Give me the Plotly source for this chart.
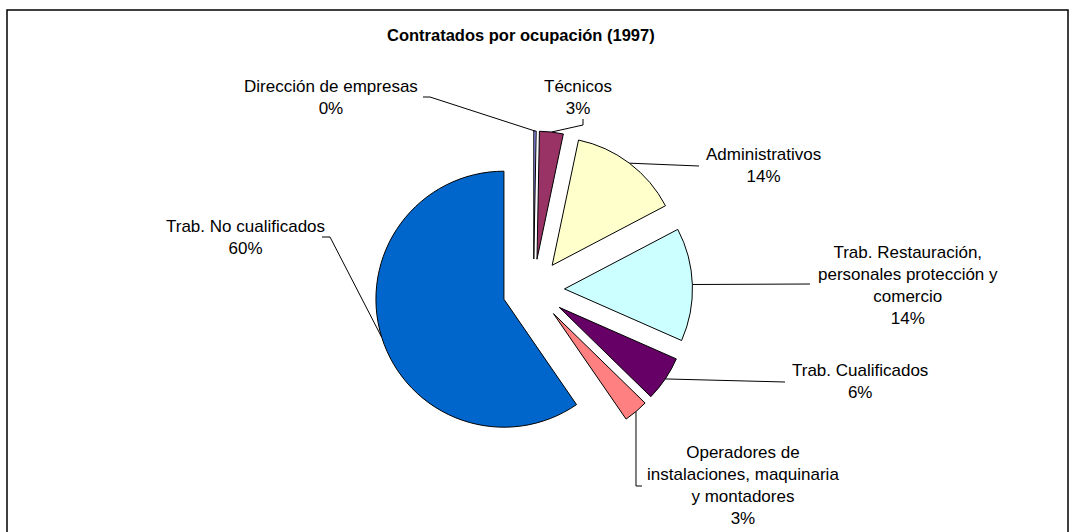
import plotly.graph_objects as go
import math

# ---- data ----
categories = ["Dirección de empresas", "Técnicos", "Administrativos",
              "Trab. Restauración, personales protección y comercio",
              "Trab. Cualificados",
              "Operadores de instalaciones, maquinaria y montadores",
              "Trab. No cualificados"]
label_lines = ["Dirección de empresas", "Técnicos", "Administrativos",
               "Trab. Restauración,<br>personales protección y<br>comercio",
               "Trab. Cualificados",
               "Operadores de<br>instalaciones, maquinaria<br>y montadores",
               "Trab. No cualificados"]
values = [0.3, 3.0, 14.0, 14.3, 5.7, 3.1, 59.6]
colors = ["#9999FF", "#993366", "#FFFFCC", "#CCFFFF", "#660066", "#FF8080", "#0066CC"]

# ---- layout constants (pixels) ----
W, H = 1071, 532
CX, CY = 533.5, 290.0      # pie centre
R = 128.0                  # slice radius
PULL = 0.242               # explosion (fraction of radius)
# label centres and leader-line knee points (pixels)
label_pos = [(331, 97), (578, 97), (763, 165.5), (908, 285), (860, 381), (743, 485), (245, 237)]
knees = [[(430, 97), (423, 97)],
         [(583, 125), (583, 119)],
         [(699, 166)],
         [(810, 284)],
         [(785, 382)],
         [(None, 486), (642, 486)],
         [(330, 237), (322, 237)]]

box = 2 * R * (1 + PULL)
dom_x = [(CX - box / 2) / W, (CX + box / 2) / W]
dom_y = [1 - (CY + box / 2) / H, 1 - (CY - box / 2) / H]

fig = go.Figure()
fig.add_trace(go.Pie(
    labels=categories, values=values, sort=False, direction="clockwise", rotation=0,
    pull=[PULL] * len(values), textinfo="none", hoverinfo="label+percent",
    marker=dict(colors=colors, line=dict(color="#000000", width=1)),
    domain=dict(x=dom_x, y=dom_y), showlegend=False))

total = sum(values)
cum = 0.0
annotations = []
for i, v in enumerate(values):
    mid = 2 * math.pi * (cum + v / 2) / total
    cum += v
    dist = R * (1 + PULL)
    ax = CX + dist * math.sin(mid)
    ay = CY - dist * math.cos(mid)
    xs, ys = [ax], [ay]
    for kx, ky in knees[i]:
        xs.append(ax if kx is None else kx)
        ys.append(ky)
    fig.add_trace(go.Scatter(x=xs, y=ys, mode="lines", line=dict(color="#000000", width=1),
                             hoverinfo="skip", showlegend=False))
    pct = int(v / total * 100 + 0.5)
    lx, ly = label_pos[i]
    annotations.append(dict(x=lx, y=ly, xref="x", yref="y", showarrow=False,
                            text=f"{label_lines[i]}<br>{pct}%", align="center",
                            xanchor="center", yanchor="middle",
                            font=dict(family="Liberation Sans, Arial", size=17, color="#000000")))

annotations.append(dict(x=521, y=35, xref="x", yref="y", showarrow=False,
                        text="<b>Contratados por ocupación (1997)</b>",
                        xanchor="center", yanchor="middle",
                        font=dict(family="Liberation Sans, Arial", size=16.5, color="#000000")))

fig.update_layout(
    width=W, height=H, margin=dict(l=0, r=0, t=0, b=0),
    paper_bgcolor="white", plot_bgcolor="rgba(0,0,0,0)",
    xaxis=dict(range=[0, W], visible=False, fixedrange=True),
    yaxis=dict(range=[H, 0], visible=False, fixedrange=True),
    annotations=annotations,
    shapes=[dict(type="rect", xref="x", yref="y", x0=7, y0=10, x1=1068, y1=545,
                 line=dict(color="#000000", width=1.5), fillcolor="rgba(0,0,0,0)")],
)

fig.write_html("out.html", config={"displayModeBar": False},
               post_script="document.body.style.margin='0';document.body.style.overflow='hidden';")
